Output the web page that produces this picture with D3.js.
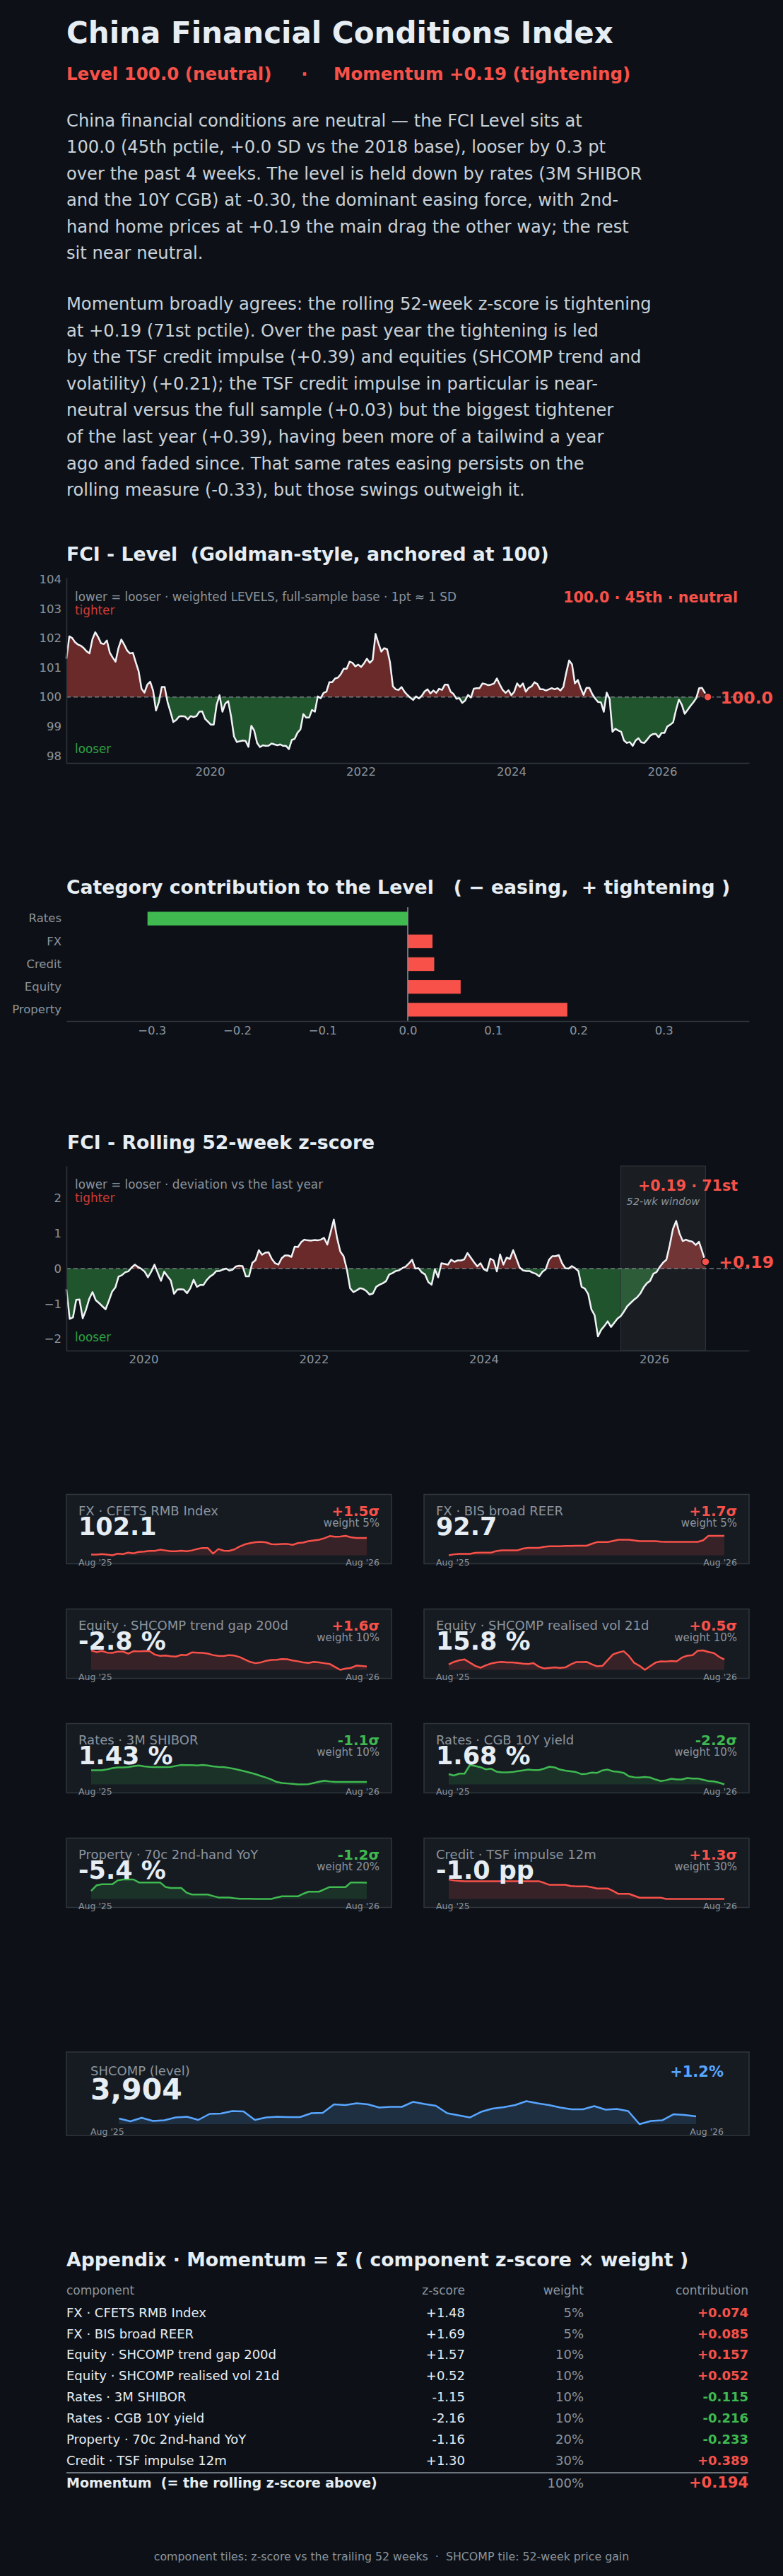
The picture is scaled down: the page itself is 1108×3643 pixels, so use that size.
<!DOCTYPE html>
<html>
<head>
<meta charset="utf-8">
<script src="https://cdn.jsdelivr.net/npm/d3@7"></script>
<style>
html,body{margin:0;padding:0;background:#0d1117;}
svg{display:block;font-family:"DejaVu Sans",sans-serif;}
text{white-space:pre;}
</style>
</head>
<body>
<svg id="c" width="1108" height="3643"></svg>
<script>
// ---------------- DATA ----------------
const levelStart = "2018-02-05";           // bi-weekly observations
const levelValues = [
101.30,102.06,102.00,101.86,101.78,101.74,101.66,101.55,101.48,101.96,
102.20,102.03,101.82,101.80,101.92,101.51,101.34,101.20,101.66,101.95,
101.78,101.58,101.48,101.50,101.18,100.87,100.28,100.15,100.42,100.52,
100.22,99.54,99.83,100.34,100.34,99.83,99.50,99.15,99.22,99.34,
99.35,99.34,99.24,99.35,99.32,99.35,99.50,99.51,99.26,99.16,
99.06,99.06,99.74,100.06,99.50,99.78,99.86,99.34,98.66,98.47,
98.50,98.52,98.51,98.31,99.02,98.86,98.44,98.30,98.36,98.34,
98.35,98.42,98.39,98.36,98.39,98.34,98.34,98.23,98.54,98.58,
98.79,98.90,99.42,99.30,99.30,99.56,99.50,100.02,99.96,100.14,
100.18,100.50,100.50,100.63,100.66,100.78,100.96,100.96,101.20,101.16,
101.04,101.10,101.02,101.14,101.30,101.16,101.26,102.14,101.82,101.54,
101.66,101.62,101.18,100.36,100.26,100.24,100.34,100.18,100.07,99.98,
99.90,100.02,99.95,100.04,100.19,100.26,100.12,100.22,100.14,100.28,
100.24,100.42,100.42,100.18,100.10,99.94,99.96,99.80,99.88,100.07,
99.98,100.28,100.30,100.30,100.46,100.44,100.40,100.42,100.46,100.63,
100.42,100.24,100.14,100.23,100.06,100.18,100.46,100.34,100.46,100.18,
100.31,100.36,100.50,100.44,100.26,100.26,100.22,100.26,100.30,100.26,
100.30,100.22,100.34,100.82,101.24,101.11,100.46,100.58,100.30,100.07,
100.31,100.31,100.10,99.95,99.83,99.82,99.50,100.15,99.94,98.82,
98.92,98.86,98.82,98.52,98.44,98.47,98.34,98.52,98.60,98.46,
98.44,98.55,98.68,98.74,98.75,98.63,98.78,98.78,99.00,99.06,
99.14,99.56,99.91,99.74,99.43,99.56,99.70,99.82,99.96,100.30,
100.31,100.14,100.00];
const levelTicks = [98,99,100,101,102,103,104];
const yearTicks = ["2020","2022","2024","2026"];

const zStart = "2019-02-04";
const zValues = [
-0.59,-1.43,-1.39,-0.89,-0.88,-1.41,-1.17,-0.86,-0.67,-0.90,
-0.98,-1.07,-1.16,-0.92,-0.66,-0.54,-0.23,-0.19,-0.11,-0.08,
0.03,0.11,0.04,-0.01,-0.09,-0.25,-0.09,0.11,-0.12,-0.35,
-0.09,-0.22,-0.34,-0.72,-0.60,-0.59,-0.60,-0.70,-0.56,-0.32,
-0.52,-0.47,-0.47,-0.33,-0.23,-0.17,-0.07,-0.07,-0.03,0.00,
-0.06,-0.03,0.06,0.08,0.07,-0.22,-0.22,0.16,0.24,0.52,
0.39,0.45,0.46,0.27,0.15,0.11,0.29,0.37,0.37,0.33,
0.62,0.61,0.75,0.82,0.80,0.79,0.81,0.80,0.82,0.87,
0.68,1.02,1.39,0.87,0.48,0.35,-0.02,-0.56,-0.67,-0.62,
-0.56,-0.58,-0.64,-0.74,-0.71,-0.52,-0.46,-0.42,-0.36,-0.17,
-0.13,-0.07,-0.05,0.01,0.05,0.14,0.25,0.00,0.01,-0.11,
-0.17,-0.39,-0.46,-0.02,-0.25,0.15,0.13,0.11,0.25,0.19,
0.23,0.23,0.26,0.44,0.31,0.18,0.06,0.15,-0.02,-0.07,
0.28,0.23,-0.08,0.40,0.11,0.31,0.27,0.52,0.28,0.03,
-0.05,-0.07,-0.07,-0.12,-0.15,-0.22,-0.09,-0.02,0.25,0.35,
0.35,0.38,0.15,0.01,0.00,0.07,0.01,-0.07,-0.52,-0.57,
-0.72,-1.16,-1.33,-1.93,-1.74,-1.63,-1.50,-1.66,-1.54,-1.42,
-1.35,-1.22,-1.07,-0.98,-0.89,-0.82,-0.71,-0.54,-0.42,-0.35,
-0.15,-0.10,0.05,0.17,0.25,0.65,1.12,1.35,1.00,0.78,
0.82,0.78,0.76,0.67,0.76,0.48,0.19];
const zTicks = [-2,-1,0,1,2];

const categories = ["Rates","FX","Credit","Equity","Property"];
const categoryContribution = [-0.305,0.029,0.031,0.062,0.187];
const categoryTicks = [-0.3,-0.2,-0.1,0,0.1,0.2,0.3];

const fxCfets = [100.02,100.02,100.08,100.02,99.93,100.14,100.08,100.27,100.17,100.36,100.39,100.48,100.48,100.63,100.54,100.45,100.45,100.51,100.45,100.54,100.72,100.85,100.85,100.14,100.72,100.51,100.48,100.66,101.03,101.30,101.46,101.58,101.61,101.55,101.33,101.30,101.36,101.36,101.24,101.46,101.52,101.70,101.79,101.88,102.07,102.34,102.25,102.28,102.37,102.19,102.10,102.10,102.10];
const fxReer = [90.30,90.42,90.48,90.48,90.48,90.60,90.63,90.63,90.63,90.83,90.92,90.92,90.92,90.92,91.13,91.22,91.22,91.22,91.34,91.42,91.42,91.42,91.45,91.45,91.48,91.48,91.48,91.72,91.93,91.93,91.93,92.07,92.22,92.22,92.22,92.13,92.04,92.04,92.04,92.04,91.99,91.96,91.96,91.96,91.96,91.96,91.96,91.96,92.16,92.70,92.70,92.70,92.70];
const eqTrend = [0.00,-0.30,-0.09,-0.39,-0.43,-0.22,-0.22,-0.56,-0.13,-0.17,-0.13,-0.13,-0.73,-0.95,-0.91,-1.03,-1.08,-0.78,-0.82,-0.35,-0.39,-0.43,-0.56,-0.82,-0.95,-0.99,-0.82,-0.91,-1.16,-1.59,-2.02,-2.24,-2.11,-1.81,-1.68,-1.64,-1.51,-1.55,-1.77,-1.90,-2.11,-2.20,-2.02,-2.11,-2.24,-2.37,-2.88,-3.40,-3.19,-3.06,-2.67,-2.71,-2.80];
const eqVol = [14.66,15.26,15.62,15.80,15.08,14.36,13.94,14.48,14.90,15.14,15.26,15.14,15.14,15.02,14.84,14.78,14.96,14.18,13.76,13.88,14.00,13.88,14.00,14.66,15.20,15.20,15.26,14.72,14.24,14.36,15.68,16.94,17.36,17.66,16.58,15.02,14.36,13.46,14.30,15.08,15.38,15.32,15.44,15.38,16.22,16.64,16.76,17.78,17.84,17.48,17.24,16.40,15.80];
const ratesShibor = [1.574,1.574,1.574,1.586,1.601,1.610,1.610,1.613,1.625,1.634,1.622,1.616,1.613,1.613,1.613,1.616,1.628,1.640,1.637,1.637,1.634,1.640,1.634,1.622,1.616,1.613,1.604,1.592,1.577,1.562,1.544,1.526,1.505,1.484,1.460,1.430,1.418,1.412,1.406,1.400,1.400,1.403,1.418,1.433,1.445,1.436,1.430,1.430,1.430,1.430,1.430,1.430,1.430];
const ratesCgb = [1.804,1.787,1.810,1.810,1.914,1.902,1.887,1.861,1.869,1.834,1.825,1.825,1.828,1.840,1.849,1.858,1.852,1.852,1.869,1.893,1.884,1.858,1.846,1.837,1.828,1.804,1.807,1.822,1.819,1.849,1.858,1.837,1.831,1.819,1.778,1.766,1.763,1.769,1.763,1.739,1.721,1.730,1.748,1.739,1.739,1.757,1.751,1.751,1.736,1.721,1.716,1.701,1.680];
const propYoy = [-6.19,-5.66,-5.56,-5.56,-5.56,-5.19,-5.10,-5.10,-5.10,-5.38,-5.38,-5.38,-5.38,-5.38,-5.80,-5.91,-5.91,-5.91,-6.35,-6.53,-6.53,-6.53,-6.53,-6.67,-6.81,-6.81,-6.81,-6.88,-6.93,-6.93,-6.93,-6.95,-6.95,-6.95,-6.95,-6.81,-6.70,-6.70,-6.70,-6.70,-6.46,-6.26,-6.26,-6.26,-6.03,-5.82,-5.82,-5.82,-5.82,-5.38,-5.38,-5.38,-5.40];
const creditTsf = [0.60,0.52,0.48,0.46,0.46,0.46,0.46,0.46,0.46,0.46,0.46,0.46,0.46,0.46,0.46,0.46,0.46,0.46,0.32,0.16,0.16,0.16,0.16,0.06,0.04,0.04,0.04,-0.04,-0.14,-0.14,-0.14,-0.34,-0.58,-0.58,-0.58,-0.74,-0.90,-0.90,-0.90,-0.90,-0.90,-1.00,-1.00,-1.00,-1.00,-1.00,-1.00,-1.00,-1.00,-1.00,-1.00,-1.00,-1.00];
const shcomp = [3858,3796,3873,3804,3819,3881,3896,3827,3958,3966,4020,4012,3827,3881,3896,3889,3889,3973,3981,4166,4150,4189,4166,4097,4112,4112,4220,4174,4135,3973,3927,3881,4004,4073,4104,4150,4235,4189,4150,4097,4058,4058,4127,4050,4066,4020,3735,3804,3819,3950,3935,3904];

const componentNames = ["FX · CFETS RMB Index","FX · BIS broad REER","Equity · SHCOMP trend gap 200d","Equity · SHCOMP realised vol 21d","Rates · 3M SHIBOR","Rates · CGB 10Y yield","Property · 70c 2nd-hand YoY","Credit · TSF impulse 12m"];
const componentZ = [1.48,1.69,1.57,0.52,-1.15,-2.16,-1.16,1.30];
const componentWeight = [5,5,10,10,10,10,20,30];
const componentContribution = [0.074,0.085,0.157,0.052,-0.115,-0.216,-0.233,0.389];
const momentumTotal = 0.194;
const tileSeries = [fxCfets,fxReer,eqTrend,eqVol,ratesShibor,ratesCgb,propYoy,creditTsf];
const tileDecimals = [1,1,1,1,2,2,1,1];
const tileUnits = ["",""," %"," %"," %"," %"," %"," pp"];
const sparkStart = "Aug '25", sparkEnd = "Aug '26";

const para1 = [
"China financial conditions are neutral — the FCI Level sits at",
"100.0 (45th pctile, +0.0 SD vs the 2018 base), looser by 0.3 pt",
"over the past 4 weeks. The level is held down by rates (3M SHIBOR",
"and the 10Y CGB) at -0.30, the dominant easing force, with 2nd-",
"hand home prices at +0.19 the main drag the other way; the rest",
"sit near neutral."];
const para2 = [
"Momentum broadly agrees: the rolling 52-week z-score is tightening",
"at +0.19 (71st pctile). Over the past year the tightening is led",
"by the TSF credit impulse (+0.39) and equities (SHCOMP trend and",
"volatility) (+0.21); the TSF credit impulse in particular is near-",
"neutral versus the full sample (+0.03) but the biggest tightener",
"of the last year (+0.39), having been more of a tailwind a year",
"ago and faded since. That same rates easing persists on the",
"rolling measure (-0.33), but those swings outweigh it."];

// ---------------- STYLE ----------------
const C = {bg:"#0d1117", white:"#e6edf3", line:"#f0f3f6", para:"#c9d1d9", grey:"#8b949e",
  red:"#f85149", green:"#3fb950", blue:"#58a6ff", axis:"#30363d", tile:"#161b22",
  tighter:"#d03b36", looser:"#2ea043"};
const AX = 16.5;
const svg = d3.select("#c");
svg.append("rect").attr("width",1108).attr("height",3643).attr("fill",C.bg);
const defs = svg.append("defs");

function T(x,y,s,o={}){
  const t = svg.append("text").attr("x",x).attr("y",y).text(s)
    .attr("fill",o.fill||C.white).attr("font-size",o.size||16)
    .attr("font-weight",o.bold?"bold":"normal")
    .attr("text-anchor",o.anchor||"start");
  if(o.italic) t.attr("font-style","italic");
  if(o.mid) t.attr("dominant-baseline","central");
  return t;
}
const parse = d3.utcParse("%Y-%m-%d");

// ---------------- HEADER ----------------
T(94,61,"China Financial Conditions Index",{size:42,bold:true});
T(94,113,"Level 100.0 (neutral)",{size:24.5,bold:true,fill:C.red});
T(431,113,"·",{size:24.5,bold:true,fill:C.red,anchor:"middle"});
T(472,113,"Momentum +0.19 (tightening)",{size:24.5,bold:true,fill:C.red});
para1.forEach((l,i)=>T(94,179+37.4*i,l,{size:24.2,fill:C.para}));
para2.forEach((l,i)=>T(94,438+37.6*i,l,{size:24.2,fill:C.para}));

// ---------------- helpers ----------------
function signedChart(cfg){
  const {dates,values,x,y,base,top,bottom,id} = cfg;
  const y0 = y(base);
  defs.append("clipPath").attr("id",id+"A").append("rect")
    .attr("x",94).attr("y",top).attr("width",966).attr("height",y0-top);
  defs.append("clipPath").attr("id",id+"B").append("rect")
    .attr("x",94).attr("y",y0).attr("width",966).attr("height",bottom-y0);
  const area = d3.area().x((d,i)=>x(dates[i])).y0(y0).y1(d=>y(d));
  svg.append("path").datum(values).attr("d",area).attr("fill",C.red).attr("fill-opacity",0.4)
    .attr("clip-path",`url(#${id}A)`);
  svg.append("path").datum(values).attr("d",area).attr("fill",C.green).attr("fill-opacity",0.4)
    .attr("clip-path",`url(#${id}B)`);
}
// style a d3 axis; fold the em-based dy offsets into absolute y so each label sits where it is drawn
function styleAxis(g){
  g.attr("font-size",AX).attr("font-family",'"DejaVu Sans",sans-serif');
  g.selectAll("text").each(function(){
    const t = d3.select(this);
    const dy = parseFloat(t.attr("dy")||"0");
    const y = parseFloat(t.attr("y")||"0");
    t.attr("y", y + dy*AX).attr("dy", null);
  }).attr("fill",C.grey).attr("font-size",AX);
  g.select(".domain").attr("stroke",C.axis).attr("stroke-width",1.5);
  g.selectAll(".tick line").remove();
  return g;
}

// ---------------- LEVEL CHART ----------------
T(94,793,"FCI - Level  (Goldman-style, anchored at 100)",{size:26.7,bold:true});
const levelDates = levelValues.map((_,i)=>d3.utcDay.offset(parse(levelStart),i*14));
const xL = d3.scaleUtc().domain([levelDates[0],parse("2027-02-26")]).range([94,1060]);
const yL = d3.scaleLinear().domain([97.76,104.05]).range([1079,817]);
signedChart({dates:levelDates,values:levelValues,x:xL,y:yL,base:100,top:817,bottom:1079,id:"lv"});
svg.append("line").attr("x1",94).attr("x2",1060).attr("y1",yL(100)).attr("y2",yL(100))
  .attr("stroke",C.grey).attr("stroke-opacity",0.8).attr("stroke-width",1.5).attr("stroke-dasharray","6,4");
svg.append("path").datum(levelValues)
  .attr("d",d3.line().x((d,i)=>xL(levelDates[i])).y(d=>yL(d)))
  .attr("fill","none").attr("stroke",C.line).attr("stroke-width",2.5).attr("stroke-linejoin","round");
styleAxis(svg.append("g").attr("transform","translate(94,0)")
  .call(d3.axisLeft(yL).tickValues(levelTicks).tickFormat(d3.format("d")).tickSize(0).tickPadding(7).tickSizeOuter(0)));
styleAxis(svg.append("g").attr("transform","translate(0,1079)")
  .call(d3.axisBottom(xL).tickValues(yearTicks.map(s=>parse(s+"-01-01"))).tickFormat(d3.utcFormat("%Y")).tickSize(0).tickPadding(6).tickSizeOuter(0)));
T(106,850,"lower = looser · weighted LEVELS, full-sample base · 1pt ≈ 1 SD",{size:16.8,fill:C.grey});
T(106,869,"tighter",{size:16.8,fill:C.tighter});
T(106,1065,"looser",{size:16.8,fill:C.looser});
const lastL = levelValues[levelValues.length-1], lastLD = levelDates[levelDates.length-1];
T(1044,852,`${lastL.toFixed(1)} · 45th · neutral`,{size:20.6,bold:true,fill:C.red,anchor:"end"});
svg.append("circle").attr("cx",xL(lastLD)).attr("cy",yL(lastL)).attr("r",5.5)
  .attr("fill",C.red).attr("stroke",C.bg).attr("stroke-width",1.5);
T(xL(lastLD)+18,yL(lastL)+1,lastL.toFixed(1),{size:23.5,bold:true,fill:C.red,mid:true});

// ---------------- CATEGORY CHART ----------------
T(94,1264,"Category contribution to the Level   ( − easing,  + tightening )",{size:26.7,bold:true});
const xC = d3.scaleLinear().domain([-0.4,0.4]).range([94,1060]);
const yC = d3.scaleBand().domain(categories).range([1283,1444]).paddingInner(0.4).paddingOuter(0.2);
svg.selectAll("rect.cat").data(categories).join("rect").attr("class","cat")
  .attr("x",(d,i)=>xC(Math.min(0,categoryContribution[i])))
  .attr("width",(d,i)=>Math.abs(xC(categoryContribution[i])-xC(0)))
  .attr("y",d=>yC(d)).attr("height",yC.bandwidth())
  .attr("fill",(d,i)=>categoryContribution[i]<0?C.green:C.red);
svg.append("line").attr("x1",xC(0)).attr("x2",xC(0)).attr("y1",1283).attr("y2",1444)
  .attr("stroke",C.grey).attr("stroke-width",1.5);
styleAxis(svg.append("g").attr("transform","translate(0,1444)")
  .call(d3.axisBottom(xC).tickValues(categoryTicks).tickFormat(d3.format(".1f")).tickSize(0).tickPadding(7).tickSizeOuter(0)));
const gyc = styleAxis(svg.append("g").attr("transform","translate(94,0)")
  .call(d3.axisLeft(yC).tickSize(0).tickPadding(7)));
gyc.select(".domain").remove();

// ---------------- Z-SCORE CHART ----------------
T(95,1625,"FCI - Rolling 52-week z-score",{size:26.7,bold:true});
const zDates = zValues.map((_,i)=>d3.utcDay.offset(parse(zStart),i*14));
const xZ = d3.scaleUtc().domain([zDates[0],parse("2027-02-13")]).range([94,1060]);
const yZ = d3.scaleLinear().domain([-2.33,2.91]).range([1910,1649]);
signedChart({dates:zDates,values:zValues,x:xZ,y:yZ,base:0,top:1649,bottom:1910,id:"zs"});
const lastZD = zDates[zDates.length-1], lastZ = zValues[zValues.length-1];
const winX0 = xZ(d3.utcDay.offset(lastZD,-364)), winX1 = xZ(lastZD);
svg.append("rect").attr("x",winX0).attr("y",1649).attr("width",winX1-winX0).attr("height",261)
  .attr("fill","#ffffff").attr("fill-opacity",0.055).attr("stroke",C.axis).attr("stroke-width",1);
svg.append("line").attr("x1",94).attr("x2",1060).attr("y1",yZ(0)).attr("y2",yZ(0))
  .attr("stroke",C.grey).attr("stroke-opacity",0.8).attr("stroke-width",1.5).attr("stroke-dasharray","6,4");
svg.append("path").datum(zValues)
  .attr("d",d3.line().x((d,i)=>xZ(zDates[i])).y(d=>yZ(d)))
  .attr("fill","none").attr("stroke",C.line).attr("stroke-width",2.5).attr("stroke-linejoin","round");
styleAxis(svg.append("g").attr("transform","translate(94,0)")
  .call(d3.axisLeft(yZ).tickValues(zTicks).tickFormat(d3.format("d")).tickSize(0).tickPadding(7).tickSizeOuter(0)));
styleAxis(svg.append("g").attr("transform","translate(0,1910)")
  .call(d3.axisBottom(xZ).tickValues(yearTicks.map(s=>parse(s+"-01-01"))).tickFormat(d3.utcFormat("%Y")).tickSize(0).tickPadding(6).tickSizeOuter(0)));
T(106,1681,"lower = looser · deviation vs the last year",{size:16.8,fill:C.grey});
T(106,1700,"tighter",{size:16.8,fill:C.tighter});
T(106,1897,"looser",{size:16.8,fill:C.looser});
T(1044,1684,`+${lastZ.toFixed(2)} · 71st`,{size:20.6,bold:true,fill:C.red,anchor:"end"});
T((winX0+winX1)/2,1704,"52-wk window",{size:14.5,italic:true,fill:C.grey,anchor:"middle"});
svg.append("circle").attr("cx",xZ(lastZD)).attr("cy",yZ(lastZ)).attr("r",5.5)
  .attr("fill",C.red).attr("stroke",C.bg).attr("stroke-width",1.5);
T(xZ(lastZD)+19,yZ(lastZ)+1,`+${lastZ.toFixed(2)}`,{size:23.5,bold:true,fill:C.red,mid:true});

// ---------------- COMPONENT TILES ----------------
function sparkline(series,x0,x1,yb,yt,color){
  const sx = d3.scaleLinear().domain([0,series.length-1]).range([x0,x1]);
  const sy = d3.scaleLinear().domain(d3.extent(series)).range([yb,yt]);
  svg.append("path").datum(series)
    .attr("d",d3.area().x((d,i)=>sx(i)).y0(yb).y1(d=>sy(d)))
    .attr("fill",color).attr("fill-opacity",0.15);
  svg.append("path").datum(series)
    .attr("d",d3.line().x((d,i)=>sx(i)).y(d=>sy(d)))
    .attr("fill","none").attr("stroke",color).attr("stroke-width",2.5).attr("stroke-linejoin","round");
}
componentNames.forEach((name,i)=>{
  const col = i%2, row = Math.floor(i/2);
  const L = col===0?94:600, R = L+460, Tp = 2113.5+162*row;
  svg.append("rect").attr("x",L).attr("y",Tp).attr("width",460).attr("height",98)
    .attr("fill",C.tile).attr("stroke",C.axis).attr("stroke-width",1.5);
  const z = componentZ[i], color = z>0?C.red:C.green;
  const s = tileSeries[i];
  sparkline(s,L+35,R-35,Tp+86,Tp+58.5,color);
  T(L+17,Tp+29,name,{size:18,fill:C.grey});
  const last = s[s.length-1];
  T(L+17,Tp+57,last.toFixed(tileDecimals[i])+tileUnits[i],{size:35,bold:true});
  T(R-17,Tp+30.5,(z>0?"+":"")+z.toFixed(1)+"σ",{size:20,bold:true,fill:color,anchor:"end"});
  T(R-17,Tp+45,`weight ${componentWeight[i]}%`,{size:15,fill:C.grey,anchor:"end"});
  T(L+17,Tp+100,sparkStart,{size:12.5,fill:C.grey});
  T(R-17,Tp+100,sparkEnd,{size:12.5,fill:C.grey,anchor:"end"});
});

// ---------------- SHCOMP TILE ----------------
svg.append("rect").attr("x",94).attr("y",2902).attr("width",966).attr("height",118)
  .attr("fill",C.tile).attr("stroke",C.axis).attr("stroke-width",1.5);
sparkline(shcomp,168.5,985,3004,2971.5,C.blue);
T(128,2934.5,"SHCOMP (level)",{size:18,fill:C.grey});
T(128,2969,d3.format(",")(shcomp[shcomp.length-1]),{size:41,bold:true});
const gain = (shcomp[shcomp.length-1]/shcomp[0]-1)*100;
T(1024,2937,(gain>=0?"+":"")+gain.toFixed(1)+"%",{size:21,bold:true,fill:C.blue,anchor:"end"});
T(128,3018.7,sparkStart,{size:12.5,fill:C.grey});
T(1024,3018.7,sparkEnd,{size:12.5,fill:C.grey,anchor:"end"});

// ---------------- APPENDIX ----------------
T(94,3205,"Appendix · Momentum = Σ ( component z-score × weight )",{size:26.7,bold:true});
T(94,3245,"component",{size:17,fill:C.grey});
T(658,3245,"z-score",{size:17,fill:C.grey,anchor:"end"});
T(826,3245,"weight",{size:17,fill:C.grey,anchor:"end"});
T(1059,3245,"contribution",{size:17,fill:C.grey,anchor:"end"});
componentNames.forEach((name,i)=>{
  const y = 3276.6+29.9*i;
  const z = componentZ[i], c = componentContribution[i];
  T(94,y,name,{size:18});
  T(658,y,(z>=0?"+":"")+z.toFixed(2),{size:18,anchor:"end"});
  T(826,y,componentWeight[i]+"%",{size:18,fill:C.grey,anchor:"end"});
  T(1059,y,(c>=0?"+":"")+c.toFixed(3),{size:18,bold:true,fill:c>=0?C.red:C.green,anchor:"end"});
});
svg.append("line").attr("x1",94).attr("x2",1059).attr("y1",3497).attr("y2",3497)
  .attr("stroke",C.grey).attr("stroke-width",1.5);
T(94,3517.5,"Momentum  (= the rolling z-score above)",{size:19,bold:true});
T(826,3517.5,d3.sum(componentWeight)+"%",{size:18,fill:C.grey,anchor:"end"});
T(1059,3517.5,(momentumTotal>=0?"+":"")+momentumTotal.toFixed(3),{size:21,bold:true,fill:C.red,anchor:"end"});

T(554,3620.6,"component tiles: z-score vs the trailing 52 weeks  ·  SHCOMP tile: 52-week price gain",{size:15.8,fill:C.grey,anchor:"middle"});
</script>
</body>
</html>
